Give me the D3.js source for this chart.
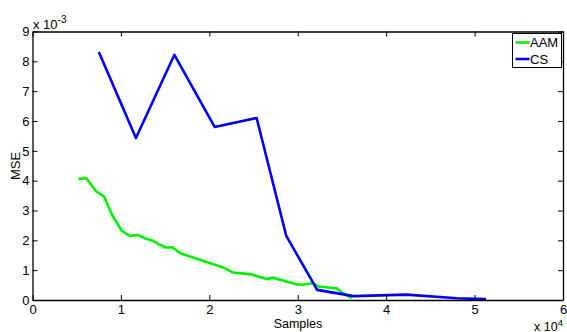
<!DOCTYPE html>
<html>
<head>
<meta charset="utf-8">
<script src="https://cdn.jsdelivr.net/npm/d3@7"></script>
<style>
  body { margin: 0; background: #fff; }
  text { font-family: "Liberation Sans", Arial, sans-serif; fill: #000; }
</style>
</head>
<body>
<div id="chart"></div>
<script>
// samples are in units of 1e4, mse in units of 1e-3
var aamSamples = [0.52, 0.61, 0.72, 0.81, 0.90, 1.01, 1.10, 1.19, 1.27, 1.36, 1.44, 1.51, 1.58, 1.67, 1.90, 2.15, 2.27, 2.47, 2.65, 2.72, 2.98, 3.05, 3.17, 3.24, 3.44, 3.50, 3.61];
var aamMse = [4.06, 4.08, 3.64, 3.47, 2.85, 2.32, 2.15, 2.18, 2.07, 1.99, 1.85, 1.76, 1.77, 1.57, 1.34, 1.10, 0.92, 0.86, 0.70, 0.75, 0.53, 0.51, 0.56, 0.45, 0.39, 0.25, 0.06];
var csSamples = [0.75, 1.17, 1.605, 2.06, 2.535, 2.87, 3.22, 3.63, 4.23, 4.8, 5.13];
var csMse = [8.31, 5.43, 8.22, 5.80, 6.10, 2.15, 0.34, 0.13, 0.18, 0.06, 0.03];
var xTicks = [0, 1, 2, 3, 4, 5, 6];
var yTicks = [0, 1, 2, 3, 4, 5, 6, 7, 8, 9];
var seriesNames = ["AAM", "CS"];
var seriesColors = ["#00f000", "#0000f0"];

var width = 567, height = 332;
var plotLeft = 32.5, plotRight = 563, plotTop = 31.5, plotBottom = 300;

var svg = d3.select("#chart").append("svg")
  .attr("width", width)
  .attr("height", height);

var x = d3.scaleLinear().domain([0, 6]).range([plotLeft, plotRight]);
var y = d3.scaleLinear().domain([0, 9]).range([plotBottom, plotTop]);

/* lines */
var line = d3.line()
  .x(d => x(d[0]))
  .y(d => y(d[1]));

var series = [
  d3.zip(aamSamples, aamMse),
  d3.zip(csSamples, csMse)
];

svg.selectAll(".series")
  .data(series).enter()
  .append("path")
  .attr("class", "series")
  .attr("d", d => line(d))
  .style("fill", "none")
  .style("stroke", (d, i) => seriesColors[i])
  .style("stroke-width", 2.6)
  .style("stroke-linejoin", "round");

/* axes, MATLAB style box with inward ticks */
function styleAxis(g) {
  g.select(".domain").attr("stroke", "#000").attr("stroke-width", 1.3);
  g.selectAll(".tick line").attr("stroke", "#000").attr("stroke-width", 1);
  g.selectAll("text").style("font-size", "13px").attr("fill", "#000");
}

svg.append("g")
  .attr("transform", `translate(0,${plotBottom})`)
  .call(d3.axisBottom(x).tickValues(xTicks).tickFormat(d3.format("d")).tickSizeInner(-5).tickSizeOuter(0).tickPadding(5))
  .call(styleAxis);

svg.append("g")
  .attr("transform", `translate(0,${plotTop})`)
  .call(d3.axisTop(x).tickValues(xTicks).tickFormat("").tickSizeInner(-5).tickSizeOuter(0))
  .call(styleAxis);

svg.append("g")
  .attr("transform", `translate(${plotLeft},0)`)
  .call(d3.axisLeft(y).tickValues(yTicks).tickFormat(d3.format("d")).tickSizeInner(-5).tickSizeOuter(0).tickPadding(3))
  .call(styleAxis);

svg.append("g")
  .attr("transform", `translate(${plotRight},0)`)
  .call(d3.axisRight(y).tickValues(yTicks).tickFormat("").tickSizeInner(-5).tickSizeOuter(0))
  .call(styleAxis);

/* labels */
svg.append("text")
  .attr("x", 298)
  .attr("y", 328)
  .attr("text-anchor", "middle")
  .style("font-size", "12.5px")
  .text("Samples");

svg.append("text")
  .attr("transform", "translate(20,166) rotate(-90)")
  .attr("text-anchor", "middle")
  .style("font-size", "13px")
  .text("MSE");

var expY = svg.append("text")
  .attr("x", 33)
  .attr("y", 29)
  .style("font-size", "13px");
expY.append("tspan").text("x 10");
expY.append("tspan").attr("dy", -6).style("font-size", "10px").text("-3");

var expX = svg.append("text")
  .attr("x", 534)
  .attr("y", 330.5)
  .style("font-size", "12.5px");
expX.append("tspan").text("x 10");
expX.append("tspan").attr("dy", -5).style("font-size", "9.5px").text("4");

/* legend */
var legend = svg.append("g").attr("transform", "translate(512.5,33.5)");
legend.append("rect")
  .attr("width", 49)
  .attr("height", 34)
  .style("fill", "#fff")
  .style("stroke", "#000")
  .style("stroke-width", 1);

var items = legend.selectAll(".item")
  .data(seriesNames).enter()
  .append("g")
  .attr("transform", (d, i) => `translate(0,${9 + i * 16.5})`);

items.append("line")
  .attr("x1", 3).attr("x2", 17)
  .style("stroke", (d, i) => seriesColors[i])
  .style("stroke-width", 2.6);

items.append("text")
  .attr("x", 17.5)
  .attr("dy", "0.36em")
  .style("font-size", "13px")
  .text(d => d);
</script>
</body>
</html>
